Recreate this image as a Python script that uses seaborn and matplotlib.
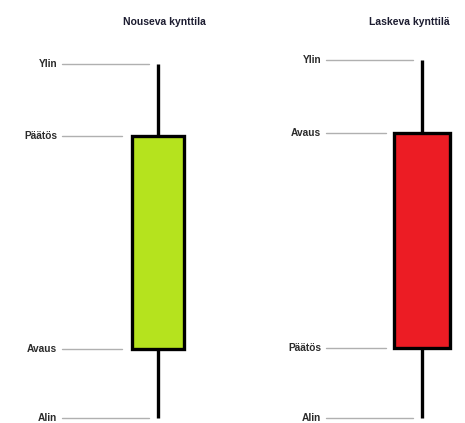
import matplotlib.pyplot as plt
import seaborn as sns

# two example candles, price units (0 = bottom of picture)
TITLES = ["Nouseva kynttila", "Laskeva kynttilä"]
OPEN = [74, 290]
CLOSE = [287, 75]
HIGH = [359, 363]
LOW = [5, 5]
FILLS = ["#b5e31e", "#ec1c24"]
BODY_WIDTH = [0.2, 0.215]

PX = 1 / 264  # one pixel in x data units (candles are 264 px apart)


def draw_candle(ax, x, o, c, h, l, fill, width, title, title_dx):
    lo, hi = min(o, c), max(o, c)
    # wicks
    ax.vlines(x, hi, h, color="black", lw=2.4, zorder=2)
    ax.vlines(x, l, lo, color="black", lw=2.4, zorder=2)
    # body
    ax.bar(x, hi - lo, bottom=lo, width=width, color=fill,
           edgecolor="black", linewidth=2.4, zorder=3)

    levels = [("Ylin", h, x - 9 * PX), ("Alin", l, x - 9 * PX),
              ("Avaus", o, x - 36 * PX), ("Päätös", c, x - 36 * PX)]
    for name, y, x_end in levels:
        x_start = x - 96 * PX
        ax.plot([x_start, x_end], [y, y], color="#b0b0b0", lw=1.0, zorder=1)
        ax.text(x_start - 5 * PX, y, name, ha="right", va="center",
                fontsize=7.3, fontweight="bold", color="#2b2b2b")

    ax.text(x + title_dx * PX, 401, title, ha="center", va="center",
            fontsize=7.5, fontweight="bold", color="#1c1c30")


def main():
    sns.set_style("white")
    plt.rcParams["font.family"] = ["Liberation Sans", "DejaVu Sans"]

    fig = plt.figure(figsize=(4.65, 4.23), dpi=100)
    ax = fig.add_axes([0, 0, 1, 1])

    title_dx = [6, -13]
    for i in range(len(TITLES)):
        draw_candle(ax, i, OPEN[i], CLOSE[i], HIGH[i], LOW[i],
                    FILLS[i], BODY_WIDTH[i], TITLES[i], title_dx[i])

    ax.set_xlim(-158 * PX, 1 + 43 * PX)
    ax.set_ylim(0, 423)
    ax.axis("off")
    sns.despine(left=True, bottom=True)

    fig.savefig("out.png", dpi=100, facecolor="white")


if __name__ == "__main__":
    main()
